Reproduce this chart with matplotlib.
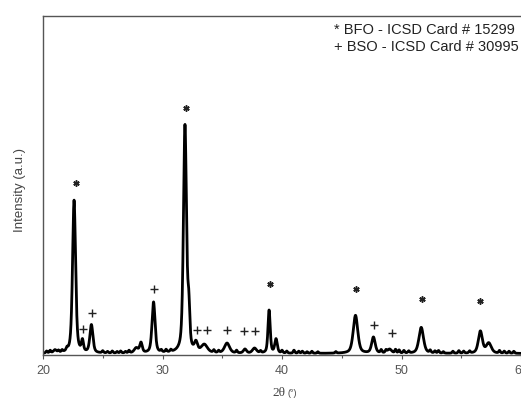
import numpy as np
import matplotlib
matplotlib.use("Agg")
import matplotlib.pyplot as plt

plt.rcParams['font.family'] = ['Liberation Sans', 'DejaVu Sans']

# Peak table: position (2theta), height (a.u.), FWHM (deg)
peak_pos = [21.0, 22.6, 23.3, 24.05, 27.8, 28.2, 29.25, 31.88, 32.2, 32.8, 33.5,
            35.4, 36.9, 37.7, 38.92, 39.5, 46.15, 47.65, 49.0, 51.65, 56.6, 57.3]
peak_hgt = [3, 153, 11, 28, 5, 10, 51, 227, 38, 9, 8,
            10, 4, 5, 43, 14, 38, 16, 4, 26, 22, 10]
peak_fwhm = [0.3, 0.3, 0.2, 0.3, 0.4, 0.25, 0.3, 0.3, 0.2, 0.3, 0.6,
             0.5, 0.3, 0.4, 0.22, 0.25, 0.45, 0.35, 0.4, 0.45, 0.4, 0.5]

# small baseline wiggles
bump_pos = [20.3, 20.6, 21.3, 21.6, 22.0, 25.0, 25.4, 25.8, 26.2, 26.5, 26.9, 27.2,
            29.9, 30.3, 30.7, 34.3, 34.7, 36.2, 38.2, 40.0, 40.4, 41.0, 41.4,
            41.7, 42.1, 42.5, 43.0, 44.5, 48.3, 48.7, 49.5, 49.8, 50.2, 50.6,
            52.4, 52.8, 53.1, 53.5, 54.3, 54.8, 55.2, 55.7, 58.2, 58.6, 59.0, 59.4]
bump_hgt = [2, 2.5, 2, 2, 2.5, 2, 1.5, 2, 1.5, 2, 1.5, 2.5,
            2, 2.5, 2, 2.5, 2, 2.5, 2, 2.5, 2, 3, 2,
            2, 1.5, 2, 1.5, 1.5, 3, 2.5, 3.5, 3, 2.5, 2,
            2.5, 2, 2.5, 1.5, 2, 2.5, 2, 2, 2.5, 2, 2, 2]

star_x = [22.75, 32.0, 38.97, 46.2, 51.7, 56.6]
star_y = [172, 247, 71, 66, 56, 54]
plus_x = [23.36, 24.1, 29.28, 32.9, 33.7, 35.4, 36.8, 37.7, 47.7, 49.2]
plus_y = [26, 42, 66, 25, 25, 25, 24, 24, 30, 22]

x_ticks = [20, 30, 40, 50, 60]
legend_lines = ["* BFO - ICSD Card # 15299", "+ BSO - ICSD Card # 30995"]

tt = np.linspace(20, 60, 4000)


def pv(x, c, h, w):
    g = np.exp(-4 * np.log(2) * ((x - c) / w) ** 2)
    l = 1.0 / (1 + 4 * ((x - c) / w) ** 2)
    return h * (0.5 * g + 0.5 * l)


inten = np.full_like(tt, 1.5)
for c, h, w in zip(peak_pos, peak_hgt, peak_fwhm):
    inten += pv(tt, c, h, w)
for c, h in zip(bump_pos, bump_hgt):
    inten += pv(tt, c, h, 0.15)

fig = plt.figure(figsize=(5.21, 3.99), dpi=100)
ax = fig.add_axes([43 / 521, 1 - 355 / 399, 1 - 43 / 521, (355 - 16) / 399])
ax.plot(tt, inten, color='black', lw=2.0)
ax.plot(star_x, star_y, ls='none', marker=(6, 2, 0), ms=4.5, mew=1.1, color='#222222')
ax.plot(plus_x, plus_y, ls='none', marker='+', ms=6, mew=1.0, color='#222222')

ax.set_xlim(20, 20 + (521 - 43) / 12)
ax.set_ylim(0, 339)
ax.set_yticks([])
ax.set_xticks(x_ticks)
ax.set_xticks([25, 35, 45, 55], minor=True)
ax.tick_params(axis='x', which='major', direction='out', length=3, width=0.8,
               labelsize=9, labelcolor='#555555', color='#555555', pad=4)
ax.tick_params(axis='x', which='minor', direction='out', length=2, width=0.8,
               color='#555555')
for s in ['left', 'top', 'bottom']:
    ax.spines[s].set_color('#555555')
    ax.spines[s].set_linewidth(1.0)
ax.spines['right'].set_visible(False)

fig.text(20 / 521, 1 - 190 / 399, "Intensity (a.u.)", rotation=90, ha='center',
         va='center', fontsize=9.5, color='#444444')
fig.text(285 / 521, 1 - 393 / 399, "2θ", ha='right', va='center', fontsize=9.5,
         color='#444444', family=['Liberation Serif', 'DejaVu Serif'])
fig.text(287 / 521, 1 - 393 / 399, "(°)", ha='left', va='center', fontsize=6.5,
         color='#444444')

for i, line in enumerate(legend_lines):
    fig.text(334 / 521, 1 - (30 + 17 * i) / 399, line, ha='left', va='center',
             fontsize=10.5, color='#222222')

fig.savefig("out.png", dpi=100)
